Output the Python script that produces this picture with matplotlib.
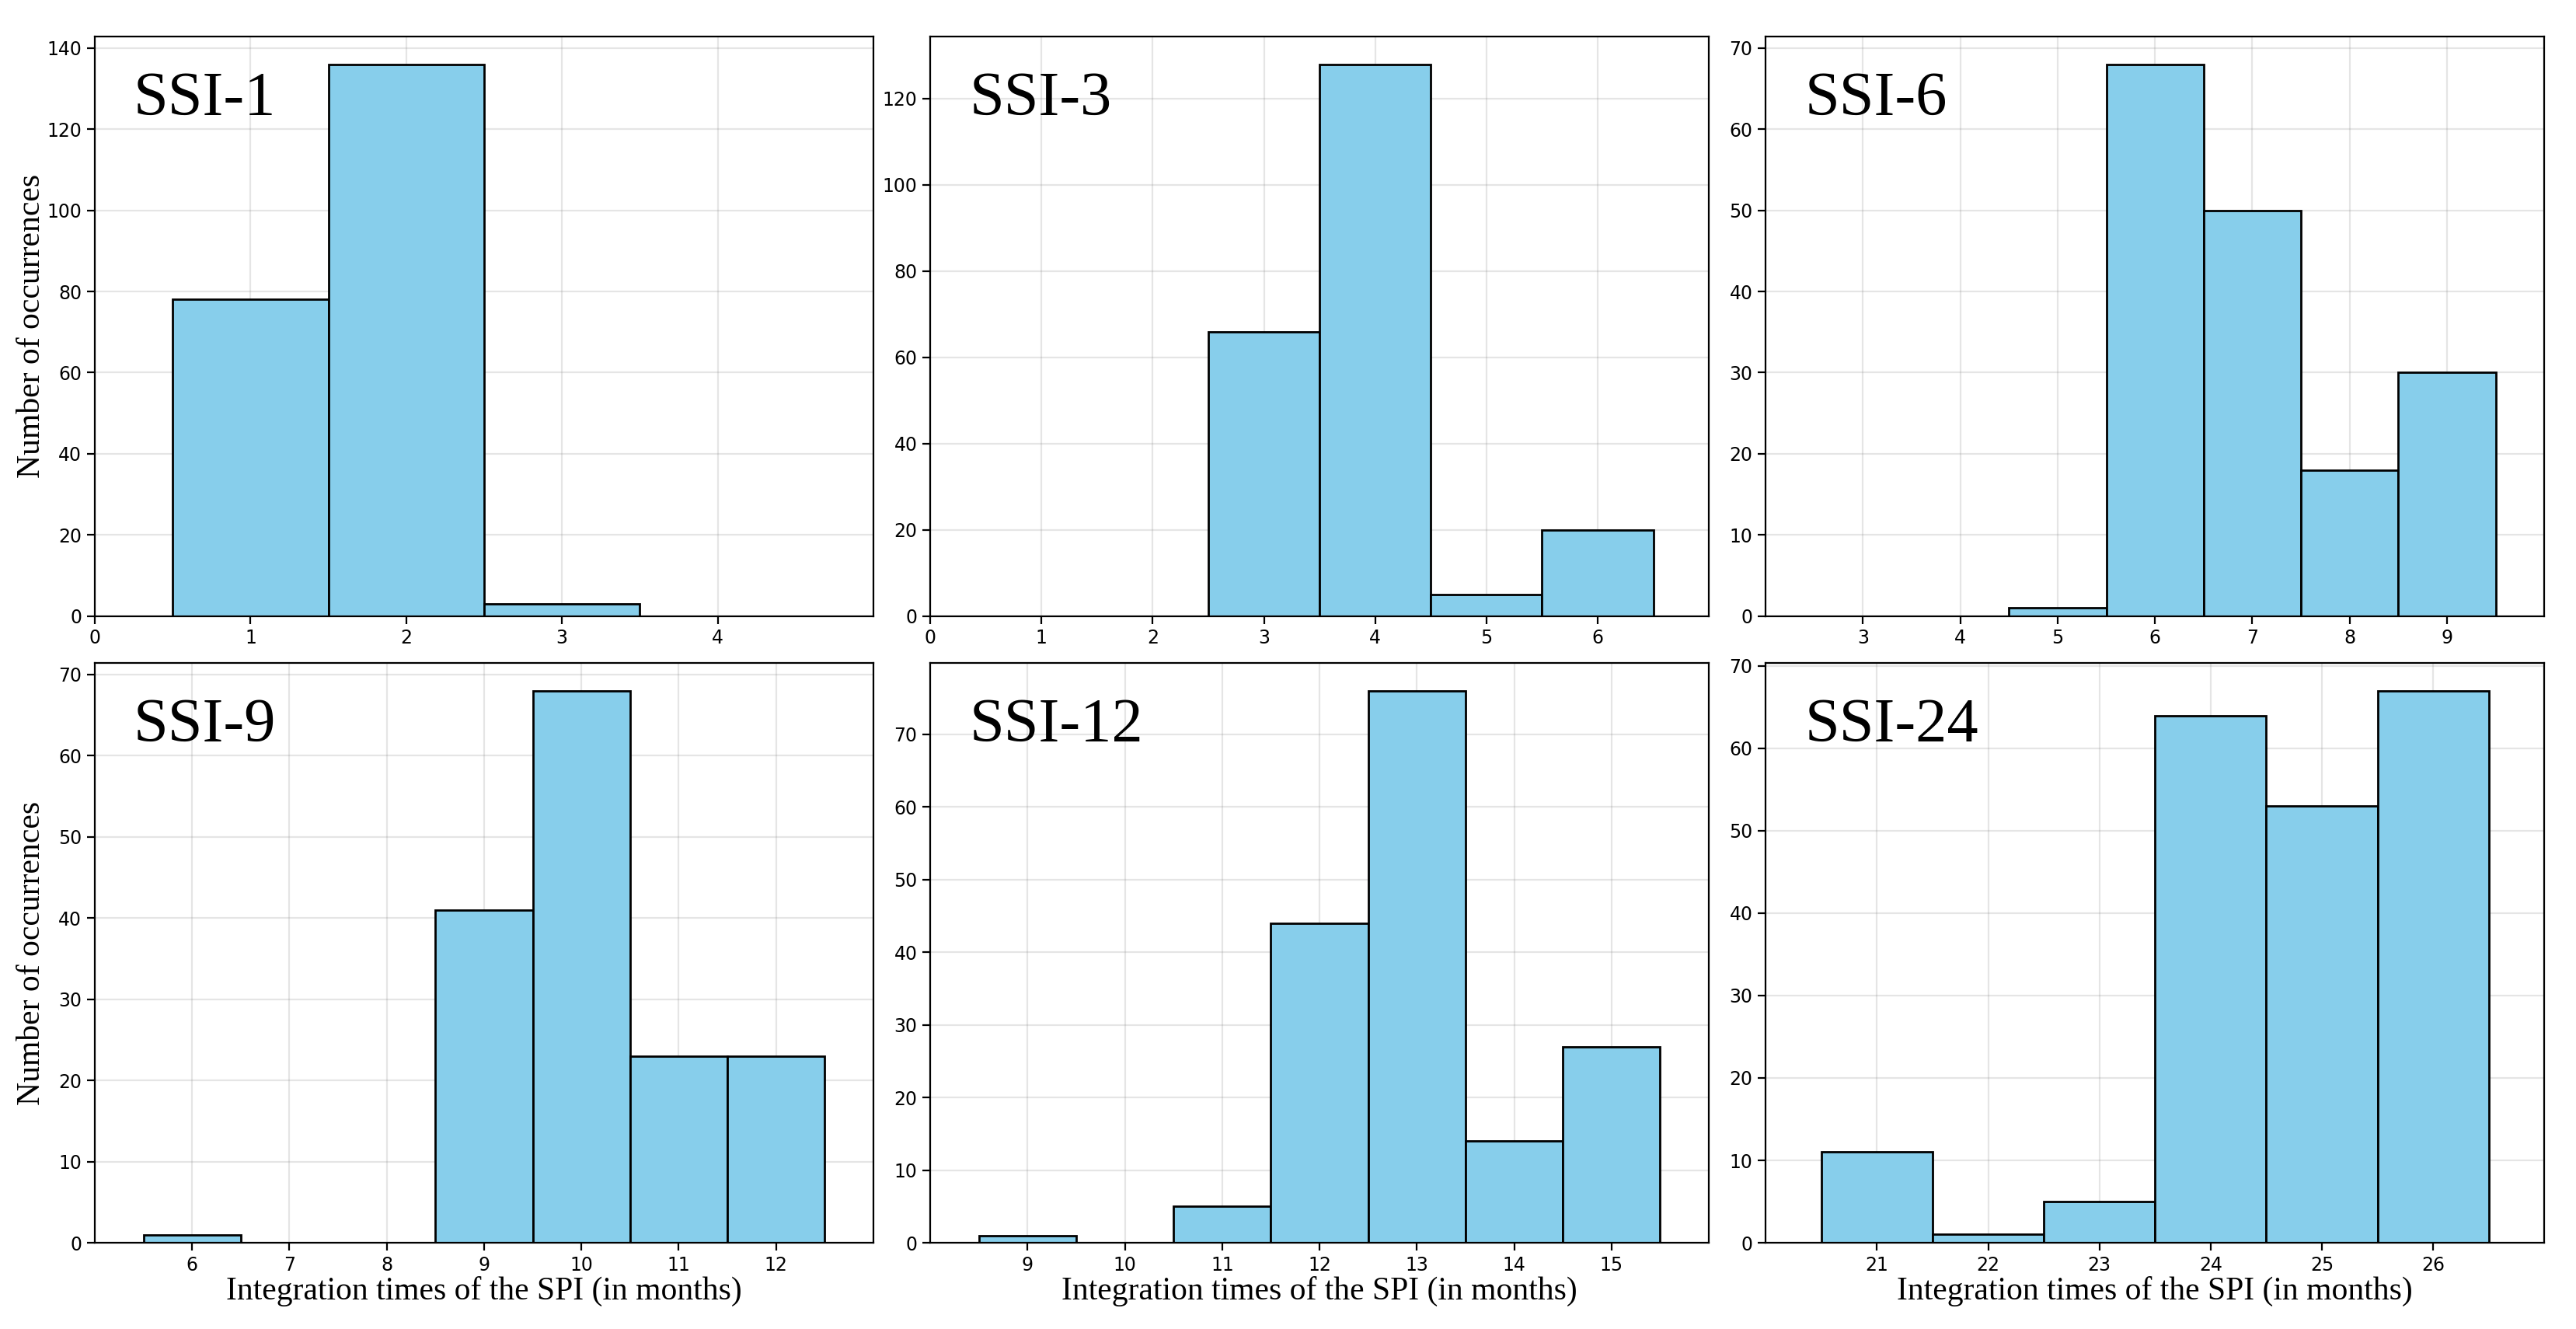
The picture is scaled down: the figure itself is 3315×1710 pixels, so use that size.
import numpy as np
import matplotlib
matplotlib.use("Agg")
import matplotlib.pyplot as plt

# integration times (bin centres) and counts for each panel
names = ["SSI-1", "SSI-3", "SSI-6", "SSI-9", "SSI-12", "SSI-24"]

months_1 = [1, 2, 3, 4]
counts_1 = [78, 136, 3, 0]

months_3 = [1, 2, 3, 4, 5, 6]
counts_3 = [0, 0, 66, 128, 5, 20]

months_6 = [3, 4, 5, 6, 7, 8, 9]
counts_6 = [0, 0, 1, 68, 50, 18, 30]

months_9 = [6, 7, 8, 9, 10, 11, 12]
counts_9 = [1, 0, 0, 41, 68, 23, 23]

months_12 = [9, 10, 11, 12, 13, 14, 15]
counts_12 = [1, 0, 5, 44, 76, 14, 27]

months_24 = [21, 22, 23, 24, 25, 26]
counts_24 = [11, 1, 5, 64, 53, 67]

ticks_1 = [0, 1, 2, 3, 4]
ticks_3 = [0, 1, 2, 3, 4, 5, 6]

all_months = [months_1, months_3, months_6, months_9, months_12, months_24]
all_counts = [counts_1, counts_3, counts_6, counts_9, counts_12, counts_24]
all_ticks = [ticks_1, ticks_3, months_6, months_9, months_12, months_24]
all_xlim = [(0, 5), (0, 7), (2, 10), (5, 13), (8, 16), (20, 27)]

serif = ["Liberation Serif", "DejaVu Serif"]

fig, axes = plt.subplots(2, 3, figsize=(16.575, 8.55), dpi=200)
plt.subplots_adjust(left=0.0368, right=0.9877, top=0.9725, bottom=0.0649,
                    wspace=0.073, hspace=0.081)

for i, ax in enumerate(axes.flat):
    ax.bar(all_months[i], all_counts[i], width=1.0, color="skyblue",
           edgecolor="black", linewidth=1.0)
    ax.set_xlim(all_xlim[i])
    ax.set_xticks(all_ticks[i])
    ax.set_axisbelow(True)
    ax.grid(True, color="gray", alpha=0.2, linewidth=0.8)
    ax.tick_params(labelsize=8.5, pad=2.5)
    ax.text(0.05, 0.94, names[i], transform=ax.transAxes, ha="left", va="top",
            fontsize=29, family=serif)
    if i % 3 == 0:
        ax.set_ylabel("Number of occurrences", fontsize=15, family=serif)
        ax.yaxis.set_label_coords(-0.062, 0.5)
    if i >= 3:
        ax.set_xlabel("Integration times of the SPI (in months)", fontsize=15,
                      family=serif, labelpad=1)

plt.savefig("out.png", dpi=200)
